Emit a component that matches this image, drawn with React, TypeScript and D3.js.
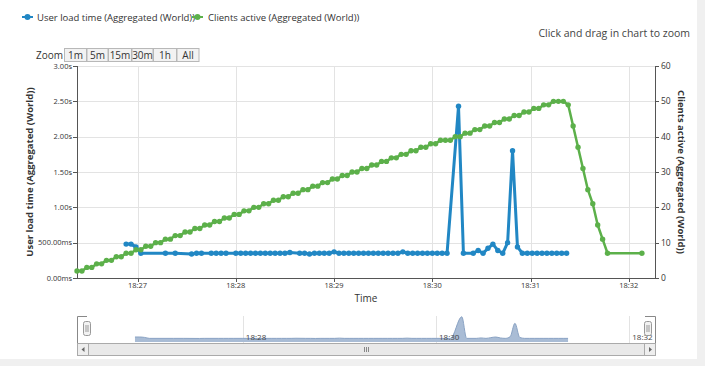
import React from "react";
import * as d3 from "d3";

// seconds after 18:26:00
const loadTimes = [
  53, 56, 59, 62, 77, 83, 93, 96, 99, 105, 108, 111, 114,
  120, 123, 126, 129, 132, 135, 138, 141, 144, 147, 150, 153,
  159, 162, 165, 168, 171, 174, 177, 180, 183, 186, 189, 192, 195, 198, 201, 204,
  207, 210, 213, 216, 219, 222, 225, 228, 231, 234, 237, 240, 243, 246, 249,
  256, 259, 265, 268, 271, 274, 277, 280, 283, 286, 289, 292,
  295, 298, 301, 304, 307, 310, 313, 316, 319, 322,
];
// seconds
const loadValues = [
  0.48, 0.48, 0.44, 0.35, 0.35, 0.35, 0.34, 0.35, 0.35, 0.35, 0.35, 0.35, 0.35,
  0.35, 0.35, 0.35, 0.35, 0.35, 0.35, 0.35, 0.35, 0.35, 0.35, 0.35, 0.36,
  0.35, 0.35, 0.34, 0.35, 0.35, 0.35, 0.35, 0.37, 0.35, 0.35, 0.35, 0.35, 0.35, 0.35, 0.35, 0.35,
  0.35, 0.35, 0.35, 0.35, 0.35, 0.37, 0.35, 0.35, 0.35, 0.35, 0.35, 0.35, 0.35, 0.35, 0.35,
  2.43, 0.35, 0.35, 0.39, 0.35, 0.42, 0.48, 0.39, 0.35, 0.5, 1.8, 0.44,
  0.35, 0.35, 0.35, 0.35, 0.35, 0.35, 0.35, 0.35, 0.35, 0.35,
];

const clientTimes = [
  23, 26, 29, 32, 35, 38, 41, 44, 47, 50, 53, 56, 59, 62, 65, 68, 71, 74, 77, 80,
  83, 86, 89, 92, 95, 98, 101, 104, 107, 110, 113, 116, 119, 122, 125, 128, 131, 134, 137, 140,
  143, 146, 149, 152, 155, 158, 161, 164, 167, 170, 173, 176, 179, 182, 185, 188, 191, 194, 197, 200,
  203, 206, 209, 212, 215, 218, 221, 224, 227, 230, 233, 236, 239, 242, 245, 248, 251, 254, 257, 260,
  263, 266, 269, 272, 275, 278, 281, 284, 287, 290, 293, 296, 299, 302, 305, 308, 311, 314, 317, 320,
  323, 326, 329, 332, 335, 338, 341, 344, 347, 368,
];
const clientValues = [
  2, 2, 3, 3, 4, 4, 5, 5, 6, 6, 7, 7, 8, 8, 9, 9, 10, 10, 11, 11,
  12, 12, 13, 13, 14, 14, 15, 15, 16, 16, 17, 17, 18, 18, 19, 19, 20, 20, 21, 21,
  22, 22, 23, 23, 24, 24, 25, 25, 26, 26, 27, 27, 28, 28, 29, 29, 30, 30, 31, 31,
  32, 32, 33, 33, 34, 34, 35, 35, 36, 36, 37, 37, 38, 38, 39, 39, 39, 40, 40, 41,
  41, 42, 42, 43, 43, 44, 44, 45, 45, 46, 46, 47, 47, 48, 48, 49, 49, 50, 50, 50,
  49, 43, 37, 31, 25, 21, 15, 11, 7, 7,
];

const leftTicks = [0, 0.5, 1, 1.5, 2, 2.5, 3];
const rightTicks = [0, 10, 20, 30, 40, 50, 60];
const zoomButtons = ["1m", "5m", "15m", "30m", "1h", "All"];
const legendNames = ["User load time (Aggregated (World))", "Clients active (Aggregated (World))"];

const BLUE = "#2187c4";
const GREEN = "#5cb04a";
const FONT = "'Open Sans', sans-serif";

const BASE = new Date(2015, 0, 1, 18, 26, 0).getTime();
const toDate = (s: number) => new Date(BASE + s * 1000);

const fmtLeft = (v: number) => (v < 1 ? (v * 1000).toFixed(2) + "ms" : v.toFixed(2) + "s");

export default function App() {
  const W = 705, H = 366;
  const L = 77, R = 655, T = 66, B = 278;

  const x = d3.scaleTime().domain([toDate(23), toDate(376)]).range([L, R]);
  const yL = d3.scaleLinear().domain([0, 3]).range([B, T]);
  const yR = d3.scaleLinear().domain([0, 60]).range([B, T]);
  const fmt = d3.timeFormat("%H:%M");
  const minuteTicks = x.ticks(d3.timeMinute.every(1) as any);

  const loadPts = loadTimes.map((t, i) => [x(toDate(t)), yL(loadValues[i])] as [number, number]);
  const clientPts = clientTimes.map((t, i) => [x(toDate(t)), yR(clientValues[i])] as [number, number]);
  const line = d3.line();

  // navigator
  const nT = 316, nB = 342;
  const nx = d3.scaleTime().domain([toDate(17), toDate(376)]).range([L, R]);
  const ny = d3.scaleLinear().domain([0, 2.5]).range([nB, nT]);
  const navArea = d3
    .area<number>()
    .x((_, i) => nx(toDate(loadTimes[i])))
    .y0(nB)
    .y1((d) => ny(d))
    .curve(d3.curveMonotoneX);
  const navLine = d3
    .line<number>()
    .x((_, i) => nx(toDate(loadTimes[i])))
    .y((d) => ny(d))
    .curve(d3.curveMonotoneX);
  const navTicks = nx.ticks(d3.timeMinute.every(2) as any);

  const btnW = [22, 21, 23, 21, 23, 22];
  let bx = 64;

  return (
    <svg width={W} height={H} style={{ position: "absolute", left: 0, top: 0 }} fontFamily={FONT}>
      <rect width={W} height={H} fill="#fff" />
      <rect x={697} y={0} width={8} height={H} fill="#f0f0f0" />
      <rect x={0} y={359} width={697} height={7} fill="#f0f0f0" />

      {/* legend */}
      <g>
        <line x1={22} x2={33} y1={17} y2={17} stroke={BLUE} strokeWidth={2} />
        <circle cx={27.5} cy={17} r={3} fill={BLUE} />
        <text x={37} y={20.5} fontSize={9.5} fill="#333">{legendNames[0]}</text>
        <line x1={192} x2={203} y1={17} y2={17} stroke={GREEN} strokeWidth={2} />
        <circle cx={197.5} cy={17} r={3} fill={GREEN} />
        <text x={208} y={20.5} fontSize={9.5} fill="#333">{legendNames[1]}</text>
      </g>
      <text x={690} y={37} fontSize={10.5} fill="#444" textAnchor="end">Click and drag in chart to zoom</text>

      {/* zoom buttons */}
      <text x={36} y={59} fontSize={10} fill="#333">Zoom</text>
      {zoomButtons.map((b, i) => {
        const x0 = bx;
        bx += btnW[i] + 0.5;
        return (
          <g key={b}>
            <rect x={x0 + 0.5} y={48.5} width={btnW[i]} height={13} fill="#f2f2f2" stroke="#b8b8b8" />
            <text x={x0 + 0.5 + btnW[i] / 2} y={58.5} fontSize={10} fill="#333" textAnchor="middle">{b}</text>
          </g>
        );
      })}

      {/* grid */}
      {leftTicks.map((v) => (
        <line key={"g" + v} x1={L} x2={R} y1={Math.round(yL(v)) + 0.5} y2={Math.round(yL(v)) + 0.5} stroke="#e3e3e3" />
      ))}
      {minuteTicks.map((d) => (
        <line key={"v" + d.getTime()} x1={Math.round(x(d)) + 0.5} x2={Math.round(x(d)) + 0.5} y1={T} y2={B} stroke="#e3e3e3" />
      ))}

      {/* left axis */}
      <line x1={L + 0.5} x2={L + 0.5} y1={T} y2={B} stroke="#555" />
      {leftTicks.map((v) => (
        <g key={"l" + v}>
          <line x1={L - 4} x2={L} y1={Math.round(yL(v)) + 0.5} y2={Math.round(yL(v)) + 0.5} stroke="#555" />
          <text x={L - 5} y={yL(v) + 2.5} fontSize={7.5} fill="#333" textAnchor="end">{fmtLeft(v)}</text>
        </g>
      ))}
      <text transform={`translate(33,${(T + B) / 2}) rotate(-90)`} fontSize={9.5} fontWeight="bold" fill="#333" textAnchor="middle">
        User load time (Aggregated (World))
      </text>

      {/* right axis */}
      <line x1={R + 0.5} x2={R + 0.5} y1={T} y2={B} stroke="#555" />
      {rightTicks.map((v) => (
        <g key={"r" + v}>
          <line x1={R} x2={R + 4} y1={Math.round(yR(v)) + 0.5} y2={Math.round(yR(v)) + 0.5} stroke="#555" />
          <text x={R + 6} y={yR(v) + 3} fontSize={8.5} fill="#333">{v}</text>
        </g>
      ))}
      <text transform={`translate(678,${(T + B) / 2}) rotate(90)`} fontSize={9.5} fontWeight="bold" fill="#333" textAnchor="middle">
        Clients active (Aggregated (World))
      </text>

      {/* x axis */}
      <line x1={L} x2={R} y1={B + 0.5} y2={B + 0.5} stroke="#555" />
      {minuteTicks.map((d) => (
        <g key={"x" + d.getTime()}>
          <line x1={Math.round(x(d)) + 0.5} x2={Math.round(x(d)) + 0.5} y1={B} y2={B + 4} stroke="#555" />
          <text x={x(d)} y={B + 10} fontSize={7.5} fill="#333" textAnchor="middle">{fmt(d)}</text>
        </g>
      ))}
      <text x={366} y={302} fontSize={10} fill="#333" textAnchor="middle">Time</text>

      {/* series */}
      <path d={line(loadPts) || ""} fill="none" stroke={BLUE} strokeWidth={3} strokeLinejoin="round" />
      {loadPts.map((p, i) => (
        <circle key={"b" + i} cx={p[0]} cy={p[1]} r={2.7} fill={BLUE} />
      ))}
      <path d={line(clientPts) || ""} fill="none" stroke={GREEN} strokeWidth={2.5} strokeLinejoin="round" />
      {clientPts.map((p, i) => (
        <circle key={"c" + i} cx={p[0]} cy={p[1]} r={2.7} fill={GREEN} />
      ))}

      {/* navigator */}
      {navTicks.map((d) => (
        <line key={"n" + d.getTime()} x1={Math.round(nx(d)) + 0.5} x2={Math.round(nx(d)) + 0.5} y1={nT} y2={nB + 1} stroke="#e3e3e3" />
      ))}
      <path d={navArea(loadValues) || ""} fill="#a9bcd5" />
      <path d={navLine(loadValues) || ""} fill="none" stroke="#8aa3c4" strokeWidth={1} />
      {navTicks.map((d) => (
        <text key={"nt" + d.getTime()} x={nx(d) + 3} y={nB - 2} fontSize={8} fill="#444">{fmt(d)}</text>
      ))}
      <path d={`M${L + 0.5},${nB + 1}V${nT + 0.5}H${L + 10}`} fill="none" stroke="#888" />
      <path d={`M${R - 10},${nT + 0.5}H${R + 0.5}V${nB + 1}`} fill="none" stroke="#888" />
      {[L + 6.5, R - 10.5].map((hx) => (
        <g key={"h" + hx}>
          <rect x={hx} y={321.5} width={7} height={14} rx={2} fill="#f2f2f2" stroke="#999" />
          <line x1={hx + 2.5} x2={hx + 2.5} y1={325} y2={332} stroke="#999" />
          <line x1={hx + 4.5} x2={hx + 4.5} y1={325} y2={332} stroke="#999" />
        </g>
      ))}

      {/* scrollbar */}
      <rect x={L + 0.5} y={343.5} width={R - L} height={12} fill="#f2f2f2" stroke="#bbb" />
      <rect x={L + 11.5} y={343.5} width={R - L - 22} height={12} fill="#e9e9e9" stroke="#aaa" />
      <rect x={L + 0.5} y={343.5} width={11} height={12} fill="#eeeeee" stroke="#aaa" />
      <rect x={R - 10.5} y={343.5} width={11} height={12} fill="#eeeeee" stroke="#aaa" />
      <path d={`M${L + 7.5},${347}L${L + 4.5},${349.5}L${L + 7.5},${352}Z`} fill="#666" />
      <path d={`M${R - 6},${347}L${R - 3},${349.5}L${R - 6},${352}Z`} fill="#666" />
      {[-2, 0, 2].map((o) => (
        <line key={"s" + o} x1={(L + R) / 2 + o + 0.5} x2={(L + R) / 2 + o + 0.5} y1={347} y2={352} stroke="#888" />
      ))}
    </svg>
  );
}
